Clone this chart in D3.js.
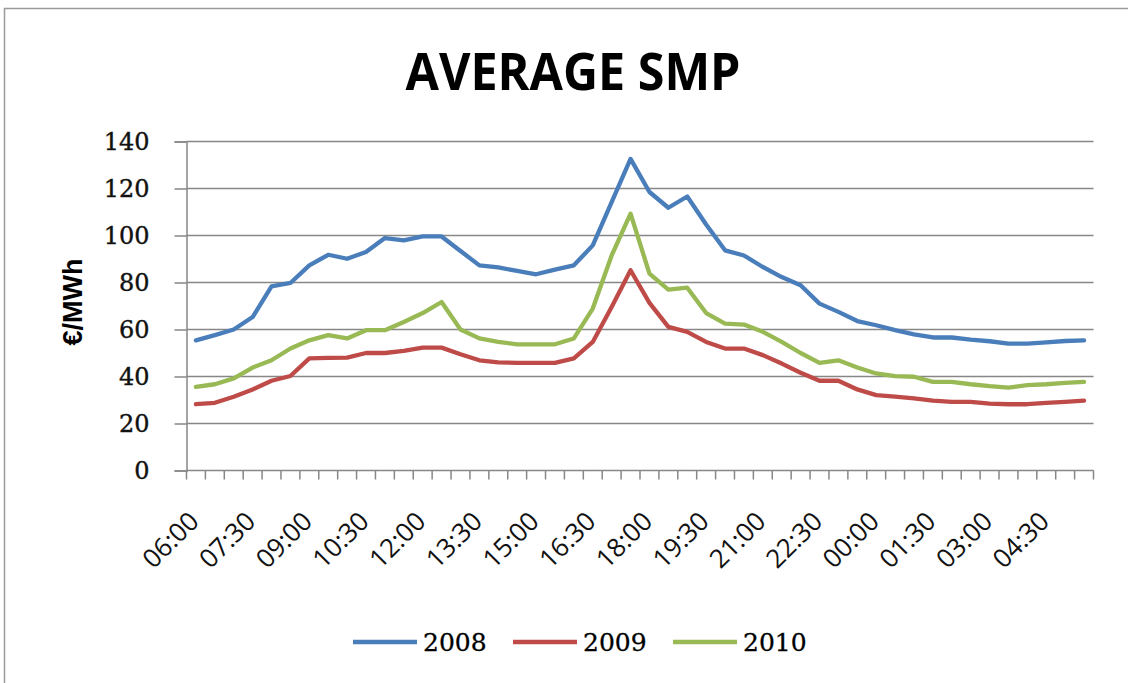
<!DOCTYPE html>
<html>
<head>
<meta charset="utf-8">
<script src="https://cdn.jsdelivr.net/npm/d3@7"></script>
<style>
  html, body { margin: 0; padding: 0; background: #fff; overflow: hidden; }
  svg { display: block; }
</style>
</head>
<body>
<svg id="chart" width="1128" height="683"></svg>
<script>
// Half-hourly time slots, 06:00 through 05:30 of the next morning
const slots = [
  "06:00","06:30","07:00","07:30","08:00","08:30","09:00","09:30",
  "10:00","10:30","11:00","11:30","12:00","12:30","13:00","13:30",
  "14:00","14:30","15:00","15:30","16:00","16:30","17:00","17:30",
  "18:00","18:30","19:00","19:30","20:00","20:30","21:00","21:30",
  "22:00","22:30","23:00","23:30","00:00","00:30","01:00","01:30",
  "02:00","02:30","03:00","03:30","04:00","04:30","05:00","05:30"
];

// Average system marginal price per slot (€/MWh)
const smp2008 = [
  55.4, 57.6, 60.0, 65.3, 78.4, 79.8, 87.3, 91.8, 90.1, 93.0, 98.9, 97.9,
  99.6, 99.6, 93.4, 87.3, 86.4, 84.9, 83.5, 85.5, 87.3, 95.8, 114.2, 132.6,
  118.5, 111.8, 116.6, 104.7, 93.7, 91.5, 86.6, 82.3, 78.8, 71.0, 67.5, 63.6,
  61.8, 59.7, 57.9, 56.6, 56.6, 55.7, 55.0, 54.0, 54.0, 54.5, 55.1, 55.4
];
const smp2009 = [
  28.2, 28.8, 31.4, 34.5, 38.2, 40.2, 47.7, 47.9, 48.0, 50.0, 50.0, 50.9,
  52.3, 52.3, 49.5, 46.9, 46.0, 45.8, 45.8, 45.8, 47.7, 54.7, 69.6, 85.2,
  71.3, 61.1, 59.0, 54.7, 51.9, 51.9, 49.1, 45.5, 41.6, 38.2, 38.2, 34.5,
  32.1, 31.4, 30.7, 29.7, 29.2, 29.2, 28.5, 28.2, 28.2, 28.8, 29.2, 29.7
];
const smp2010 = [
  35.6, 36.7, 39.2, 43.8, 46.9, 51.9, 55.4, 57.6, 56.2, 59.7, 59.7, 63.2,
  67.0, 71.7, 60.0, 56.2, 54.7, 53.7, 53.7, 53.7, 56.2, 68.9, 91.5, 109.3,
  83.8, 77.0, 77.8, 67.0, 62.5, 62.1, 59.0, 54.7, 50.0, 45.8, 46.9, 43.8,
  41.3, 40.2, 39.9, 37.7, 37.7, 36.7, 35.9, 35.3, 36.3, 36.7, 37.3, 37.7
];

const seriesNames = ["2008", "2009", "2010"];
const seriesColors = ["#4a7ebb", "#be4b48", "#98b954"];
const yTicks = [0, 20, 40, 60, 80, 100, 120, 140];

const series = [smp2008, smp2009, smp2010].map((values, k) => ({
  name: seriesNames[k], color: seriesColors[k], values
}));

const svg = d3.select("#chart");

// outer chart frame (only its top and left edges fall inside the canvas)
svg.append("path")
  .attr("d", "M4.5,690 V8.5 H1140")
  .attr("fill", "none")
  .attr("stroke", "#9a9a9a").attr("stroke-width", 1.5);

const plot = { left: 186.5, right: 1093.5, top: 141.5, bottom: 470.5 };

const x = d3.scaleBand().domain(slots).range([plot.left, plot.right]).padding(0);
const y = d3.scaleLinear().domain([0, 140]).range([plot.bottom, plot.top]);

// horizontal gridlines
svg.append("g")
  .selectAll("line")
  .data(yTicks.filter(v => v > 0))
  .join("line")
  .attr("x1", plot.left).attr("x2", plot.right)
  .attr("y1", d => y(d)).attr("y2", d => y(d))
  .attr("stroke", "#878787").attr("stroke-width", 1.5);

// y axis
const yAxis = svg.append("g")
  .attr("transform", `translate(${plot.left},0)`)
  .call(d3.axisLeft(y).tickValues(yTicks).tickSize(12).tickPadding(25).tickFormat(d3.format("d")));
yAxis.select(".domain").attr("stroke", "#878787").attr("stroke-width", 1.5);
yAxis.selectAll(".tick line").attr("stroke", "#878787").attr("stroke-width", 1.5);
yAxis.selectAll(".tick text")
  .attr("font-family", "'DejaVu Serif', serif")
  .attr("font-size", 24)
  .attr("fill", "#111")
  .attr("stroke", "#111")
  .attr("stroke-width", 0.4);

// x axis: ticks sit on the boundaries between slots
svg.append("line")
  .attr("x1", plot.left).attr("x2", plot.right)
  .attr("y1", plot.bottom).attr("y2", plot.bottom)
  .attr("stroke", "#878787").attr("stroke-width", 1.5);

const boundaries = slots.map(s => x(s)).concat([x.range()[1]]);
svg.append("g")
  .selectAll("line")
  .data(boundaries)
  .join("line")
  .attr("x1", d => d).attr("x2", d => d)
  .attr("y1", plot.bottom).attr("y2", plot.bottom + 9)
  .attr("stroke", "#878787").attr("stroke-width", 1.5);

// every third slot is labelled
svg.append("g")
  .selectAll("text")
  .data(slots.filter((s, i) => i % 3 === 0))
  .join("text")
  .attr("transform", d => `translate(${x(d) + x.bandwidth() / 2 - 2},${plot.bottom + 46}) rotate(-45)`)
  .attr("text-anchor", "end")
  .attr("dy", "0.35em")
  .attr("font-family", "'Open Sans', sans-serif")
  .attr("font-size", 26)
  .attr("fill", "#111")
  .text(d => d);

// lines
const line = d3.line()
  .x((d, i) => x(slots[i]) + x.bandwidth() / 2)
  .y(d => y(d));

svg.append("g")
  .selectAll("path")
  .data(series)
  .join("path")
  .attr("d", d => line(d.values))
  .attr("fill", "none")
  .attr("stroke", d => d.color)
  .attr("stroke-width", 4.3)
  .attr("stroke-linejoin", "round")
  .attr("stroke-linecap", "round");

// title
svg.append("text")
  .attr("x", 573).attr("y", 90)
  .attr("text-anchor", "middle")
  .attr("font-family", "'Open Sans', sans-serif")
  .attr("font-weight", "bold")
  .attr("font-size", 52)
  .attr("textLength", 335)
  .attr("lengthAdjust", "spacingAndGlyphs")
  .attr("fill", "#000")
  .text("AVERAGE SMP");

// y axis title
svg.append("text")
  .attr("transform", "translate(82,302) rotate(-90)")
  .attr("text-anchor", "middle")
  .attr("font-family", "'Liberation Sans', Arial, sans-serif")
  .attr("font-weight", "bold")
  .attr("font-size", 27)
  .attr("fill", "#000")
  .text("€/MWh");

// legend
const legendX = [353, 513, 673];
const legend = svg.append("g")
  .selectAll("g")
  .data(series)
  .join("g")
  .attr("transform", (d, i) => `translate(${legendX[i]},642)`);
legend.append("line")
  .attr("x1", 0).attr("x2", 64)
  .attr("stroke", d => d.color)
  .attr("stroke-width", 4.5);
legend.append("text")
  .attr("x", 70)
  .attr("dy", "0.36em")
  .attr("font-family", "'DejaVu Serif', serif")
  .attr("font-size", 25)
  .attr("fill", "#000")
  .attr("stroke", "#000")
  .attr("stroke-width", 0.3)
  .text(d => d.name);
</script>
</body>
</html>
